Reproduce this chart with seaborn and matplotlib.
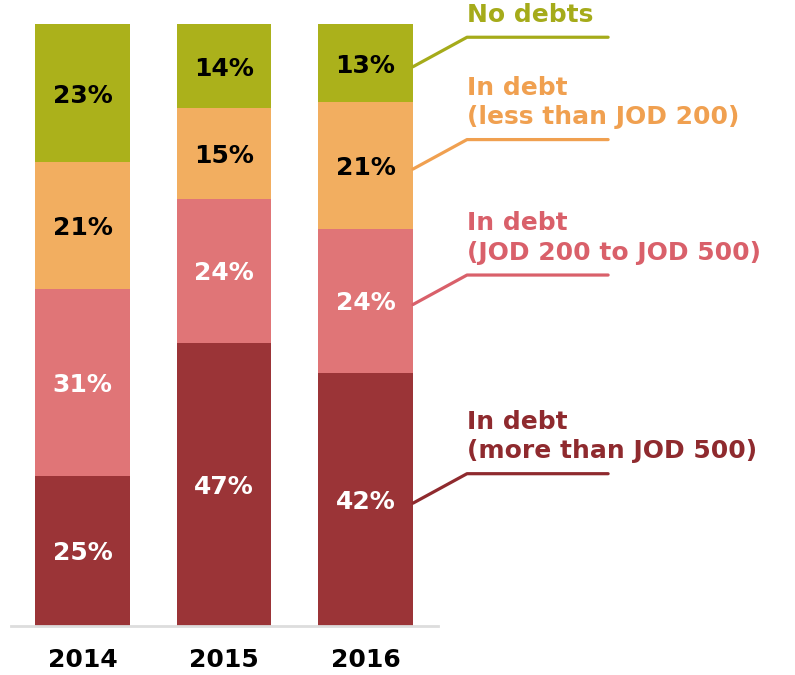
import matplotlib
matplotlib.use("Agg")
import matplotlib.pyplot as plt
import numpy as np
import pandas as pd
import seaborn as sns

years = ["2014", "2015", "2016"]
categories = [
    "In debt\n(more than JOD 500)",
    "In debt\n(JOD 200 to JOD 500)",
    "In debt\n(less than JOD 200)",
    "No debts",
]
more_500 = [25, 47, 42]
from_200_to_500 = [31, 24, 24]
less_200 = [21, 15, 21]
no_debts = [23, 14, 13]

bar_colors = ["#9b3437", "#e07577", "#f2ae60", "#abb11b"]
text_colors = ["#8f2a2e", "#d9606a", "#f0a050", "#a5ab1a"]
value_colors = ["white", "white", "black", "black"]

series = np.array([more_500, from_200_to_500, less_200, no_debts], dtype=float)
tops = series.cumsum(axis=0)
bottoms = tops - series

sns.set_style("white")
plt.rcParams["font.family"] = ["DejaVu Sans"]

fig = plt.figure(figsize=(7.95, 6.75), dpi=100)
ax = fig.add_axes([11 / 795, 49 / 675, 427 / 795, 602 / 675])

# stacked bars: draw cumulative totals from the top layer down
for k in range(len(categories) - 1, -1, -1):
    df = pd.DataFrame({"year": years, "value": tops[k]})
    sns.barplot(data=df, x="year", y="value", color=bar_colors[k],
                saturation=1, width=0.67, linewidth=0, ax=ax)

for k in range(len(categories)):
    for i in range(len(years)):
        mid = (bottoms[k, i] + tops[k, i]) / 2
        ax.text(i, mid - 0.4, f"{int(series[k, i])}%", ha="center", va="center",
                fontsize=18, fontweight="bold", color=value_colors[k])

# leader lines and labels on the right, anchored to the 2016 bar
last = len(years) - 1
x_start = last + 0.335
x_elbow = last + 0.717
x_end = last + 1.714
for k in range(len(categories)):
    start = (bottoms[k, last] + tops[k, last]) / 2 - 0.6
    y_elbow = start + 4.9
    ax.plot([x_start, x_elbow, x_end], [start, y_elbow, y_elbow],
            color=text_colors[k], lw=2.3, solid_capstyle="round",
            clip_on=False)
    ax.text(x_elbow, y_elbow + 1.7, categories[k], ha="left", va="bottom",
            fontsize=18, fontweight="bold", color=text_colors[k],
            linespacing=1.3, clip_on=False)

ax.set_xlim(-0.505, 2.512)
ax.set_ylim(0, 100)
ax.set_yticks([])
ax.set_xlabel("")
ax.set_ylabel("")
ax.tick_params(axis="x", length=0, pad=16)
ax.set_xticks(range(len(years)))
ax.set_xticklabels(years, fontsize=18, fontweight="bold", color="black")
for side in ["top", "right", "left"]:
    ax.spines[side].set_visible(False)
ax.spines["bottom"].set_color("#dddddd")
ax.spines["bottom"].set_linewidth(2)

fig.savefig("out.png", dpi=100)
